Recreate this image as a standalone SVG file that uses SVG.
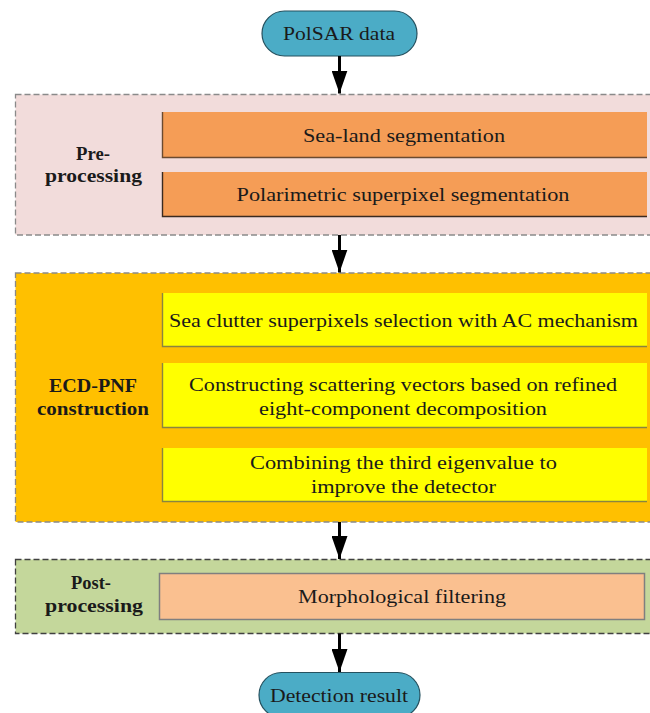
<svg xmlns="http://www.w3.org/2000/svg" width="650" height="713" viewBox="0 0 650 713">
<style>
text{font-family:"Liberation Serif","Times New Roman",serif;fill:#1a1a1a;text-anchor:middle;font-size:19px;}
.lbl{font-weight:bold;font-size:19.5px;}
.term{fill:#4bacc6;stroke:#25515f;stroke-width:1.2;}
.grp{stroke-dasharray:6,3;stroke-width:1.3;}
.edge{stroke-width:1.4;fill:none;}
.conn{stroke:#000;stroke-width:3;fill:none;marker-end:url(#ah);}
</style>
<defs>
<marker id="ah" markerUnits="userSpaceOnUse" viewBox="0 -8 23 16" refX="23" refY="0" markerWidth="23" markerHeight="16" orient="auto">
<path d="M0,-8 L23,0 L0,8 z" fill="#000"/>
</marker>
</defs>
<rect width="650" height="713" fill="#fff"/>

<g id="start">
<rect class="term" x="262" y="11" width="155" height="45" rx="22.5"/>
<text x="339" y="40" font-size="20" textLength="112" lengthAdjust="spacingAndGlyphs">PolSAR data</text>
</g>

<g id="preprocessing">
<rect class="grp" x="15.5" y="94.5" width="640" height="140.5" fill="#f2dcdb" stroke="#8a8a8a"/>
<text class="lbl" x="93" y="160" textLength="34" lengthAdjust="spacingAndGlyphs">Pre-</text>
<text class="lbl" x="93.5" y="182" textLength="97" lengthAdjust="spacingAndGlyphs">processing</text>
</g>
<g id="sealand">
<rect x="162" y="112" width="485" height="46" fill="#f59d56"/>
<path class="edge" d="M162.5,112 V157.5 H647" stroke="#6b4a30"/>
<text x="404" y="141.5" textLength="202" lengthAdjust="spacingAndGlyphs">Sea-land segmentation</text>
</g>
<g id="superpixel">
<rect x="162" y="172" width="485" height="45" fill="#f59d56"/>
<path class="edge" d="M162.5,172 V216.5 H647" stroke="#3a2a20"/>
<text x="403" y="200.5" textLength="333" lengthAdjust="spacingAndGlyphs">Polarimetric superpixel segmentation</text>
</g>

<g id="ecdpnf">
<rect class="grp" x="15.5" y="273" width="640" height="249" fill="#ffc000" stroke="#8a8a8a"/>
<text class="lbl" x="93" y="392" textLength="88" lengthAdjust="spacingAndGlyphs">ECD-PNF</text>
<text class="lbl" x="93" y="415" textLength="112" lengthAdjust="spacingAndGlyphs">construction</text>
</g>
<g id="seaclutter">
<rect x="162" y="293" width="485" height="54" fill="#ffff00"/>
<path class="edge" d="M162.5,293 V346.5 H647" stroke="#8a8440"/>
<text x="403.5" y="327" textLength="469" lengthAdjust="spacingAndGlyphs">Sea clutter superpixels selection with AC mechanism</text>
</g>
<g id="scattering">
<rect x="162" y="363" width="485" height="65" fill="#ffff00"/>
<path class="edge" d="M162.5,363 V427.5 H647" stroke="#8a8440"/>
<text x="403" y="390.5" textLength="428" lengthAdjust="spacingAndGlyphs">Constructing scattering vectors based on refined</text>
<text x="403" y="414.5" textLength="288" lengthAdjust="spacingAndGlyphs">eight-component decomposition</text>
</g>
<g id="eigenvalue">
<rect x="162" y="448" width="485" height="54" fill="#ffff00"/>
<path class="edge" d="M162.5,448 V501.5 H647" stroke="#8a8440"/>
<text x="403.5" y="468.5" textLength="307" lengthAdjust="spacingAndGlyphs">Combining the third eigenvalue to</text>
<text x="403.5" y="492.5" textLength="185" lengthAdjust="spacingAndGlyphs">improve the detector</text>
</g>

<g id="postprocessing">
<rect class="grp" x="15.5" y="559.5" width="640" height="74" fill="#c4d79b" stroke="#404040"/>
<text class="lbl" x="91" y="589" textLength="40" lengthAdjust="spacingAndGlyphs">Post-</text>
<text class="lbl" x="94" y="612" textLength="98" lengthAdjust="spacingAndGlyphs">processing</text>
</g>
<g id="morph">
<rect x="159.5" y="573.5" width="485" height="46" fill="#fac090" stroke="#7f7f7f" stroke-width="1.5"/>
<text x="402" y="603" textLength="208" lengthAdjust="spacingAndGlyphs">Morphological filtering</text>
</g>

<g id="end">
<rect class="term" x="259" y="672.5" width="161" height="45" rx="22.5"/>
<text x="339" y="702" font-size="19" textLength="138" lengthAdjust="spacingAndGlyphs">Detection result</text>
</g>

<g id="connectors">
<line class="conn" x1="339.5" y1="56" x2="339.5" y2="93.5"/>
<line class="conn" x1="339.5" y1="235" x2="339.5" y2="272.5"/>
<line class="conn" x1="339.5" y1="522" x2="339.5" y2="559"/>
<line class="conn" x1="339.5" y1="633.5" x2="339.5" y2="672"/>
</g>
</svg>
